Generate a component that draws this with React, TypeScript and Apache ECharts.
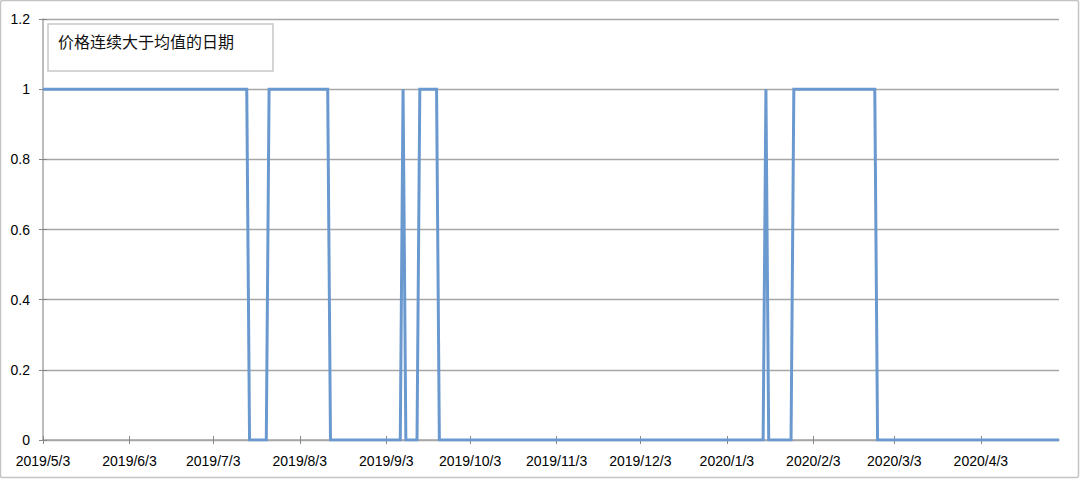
import React, { useEffect, useRef } from "react";
import * as echarts from "echarts";

// Date range of the category axis (one category per calendar day)
const firstDay = "2019/5/3";
const lastDay = "2020/5/1";

// Points where the indicator changes
const pointDates = [
  "2019/5/3", "2019/7/15", "2019/7/16", "2019/7/22", "2019/7/23",
  "2019/8/13", "2019/8/14", "2019/9/8", "2019/9/9", "2019/9/10",
  "2019/9/14", "2019/9/15", "2019/9/21", "2019/9/22", "2020/1/16",
  "2020/1/17", "2020/1/18", "2020/1/26", "2020/1/27", "2020/2/25",
  "2020/2/26", "2020/5/1",
];
const pointValues = [
  1, 1, 0, 0, 1,
  1, 0, 0, 1, 0,
  0, 1, 1, 0, 0,
  1, 0, 0, 1, 1,
  0, 0,
];

const seriesName = "价格连续大于均值的日期";
const yTicks = [0, 0.2, 0.4, 0.6, 0.8, 1, 1.2];

function buildCategories(from: string, to: string): string[] {
  const [fy, fm, fd] = from.split("/").map(Number);
  const [ty, tm, td] = to.split("/").map(Number);
  const d = new Date(fy, fm - 1, fd);
  const end = new Date(ty, tm - 1, td);
  const out: string[] = [];
  while (d <= end) {
    out.push(`${d.getFullYear()}/${d.getMonth() + 1}/${d.getDate()}`);
    d.setDate(d.getDate() + 1);
  }
  return out;
}

const categories = buildCategories(firstDay, lastDay);
const isMonthTick = (_i: number, v: string) => /\/3$/.test(v) && !/\/(13|23)$/.test(v);

export default function App() {
  const ref = useRef<HTMLDivElement>(null);
  useEffect(() => {
    document.body.style.margin = "0";
    if (!ref.current) return;
    const chart = echarts.init(ref.current, undefined, { renderer: "svg" });
    const axisGray = "#a6a6a6";
    const font = "'Liberation Sans', Arial, sans-serif";
    chart.setOption({
      animation: false,
      backgroundColor: "#ffffff",
      textStyle: { fontFamily: font },
      grid: { left: 43, right: 21, top: 19, bottom: 40, containLabel: false },
      legend: {
        show: true,
        left: 48,
        top: 24,
        data: [seriesName],
        icon: "none",
        itemWidth: 0,
        itemGap: 0,
        padding: [8, 39, 22, 5],
        borderColor: "#c8c8c8",
        borderWidth: 1.5,
        selectedMode: false,
        textStyle: {
          fontFamily: "'Noto Sans CJK SC', sans-serif",
          fontSize: 16,
          color: "#111",
          lineHeight: 17,
        },
      },
      xAxis: [
        {
          type: "category",
          data: categories,
          boundaryGap: false,
          position: "bottom",
          axisLine: { lineStyle: { color: axisGray, width: 1.5 } },
          axisTick: { show: true, interval: isMonthTick, length: 4, inside: false, lineStyle: { color: "#888" } },
          axisLabel: {
            interval: isMonthTick,
            margin: 14,
            fontSize: 14,
            color: "#000",
            fontFamily: font,
          },
          splitLine: { show: false },
        },
        {
          type: "category",
          data: categories,
          boundaryGap: false,
          position: "bottom",
          axisLine: { show: false },
          axisTick: { show: true, interval: isMonthTick, length: 4, inside: true, lineStyle: { color: "#888" } },
          axisLabel: { show: false },
          splitLine: { show: false },
        },
      ],
      yAxis: [
        {
          type: "value",
          min: yTicks[0],
          max: yTicks[yTicks.length - 1],
          interval: 0.2,
          position: "left",
          axisLine: { show: true, lineStyle: { color: axisGray, width: 1.5 } },
          axisTick: { show: true, length: 4, lineStyle: { color: "#888" } },
          axisLabel: {
            margin: 13,
            fontSize: 14,
            color: "#000",
            fontFamily: font,
            formatter: (v: number) => String(Math.round(v * 10) / 10),
          },
          splitLine: { show: true, lineStyle: { color: axisGray, width: 1.3 } },
        },
        {
          type: "value",
          min: yTicks[0],
          max: yTicks[yTicks.length - 1],
          interval: 0.2,
          position: "left",
          axisLine: { show: false },
          axisTick: { show: true, inside: true, length: 4, lineStyle: { color: "#888" } },
          axisLabel: { show: false },
          splitLine: { show: false },
        },
      ],
      series: [
        {
          name: seriesName,
          type: "line",
          xAxisIndex: 0,
          yAxisIndex: 0,
          data: pointDates.map((d, i) => [d, pointValues[i]]),
          showSymbol: false,
          symbol: "none",
          lineStyle: { color: "#6a99d0", width: 3, join: "miter" },
          itemStyle: { color: "#6a99d0" },
        },
      ],
      graphic: [
        {
          type: "rect",
          shape: { x: 0.5, y: 0.5, width: 1078, height: 477, r: 2 },
          style: { fill: "none", stroke: "#c4c4c4", lineWidth: 1.5 },
          silent: true,
        },
      ],
    });
    return () => chart.dispose();
  }, []);
  return <div ref={ref} style={{ width: 1080, height: 480 }} />;
}
